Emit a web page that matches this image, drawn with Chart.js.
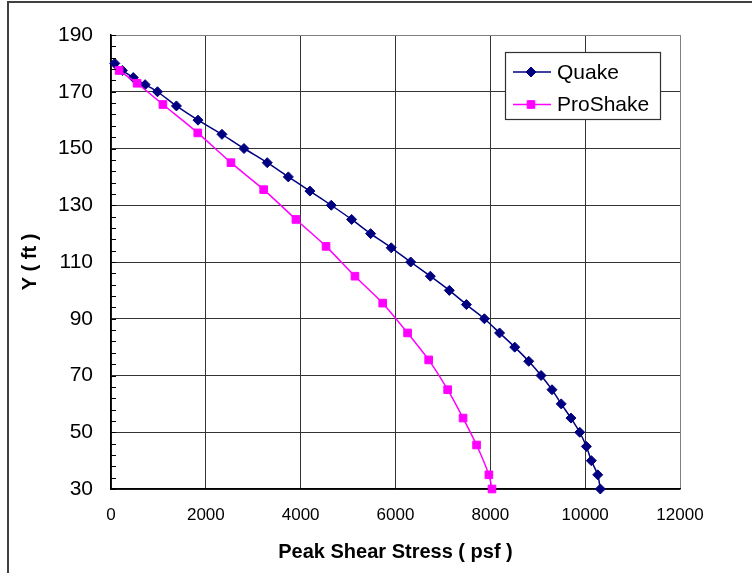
<!DOCTYPE html>
<html>
<head>
<meta charset="utf-8">
<script src="https://cdn.jsdelivr.net/npm/chart.js@4.4.1/dist/chart.umd.min.js"></script>
<style>
  html, body { margin: 0; padding: 0; background: #fff; }
  #wrap { position: relative; width: 752px; height: 573px; }
</style>
</head>
<body>
<div id="wrap"><canvas id="c" width="752" height="573"></canvas></div>
<script>
// ---- data ----
const quakeLabel = "Quake";
const quakeY = [180,177.5,175,172.5,170,165,160,155,150,145,140,135,130,125,120,115,110,105,100,95,90,85,80,75,70,65,60,55,50,45,40,35,30];
const quakeX = [80,240,470,720,980,1380,1835,2340,2805,3295,3740,4195,4645,5075,5475,5910,6320,6735,7135,7495,7875,8195,8515,8810,9070,9300,9495,9700,9885,10025,10130,10265,10320];

const proLabel = "ProShake";
const proY = [177.5,173,165.5,155.5,145,135.5,125,115.5,105,95.5,85,75.5,65,55,45.5,35,30];
const proX = [170,550,1095,1830,2530,3220,3900,4535,5145,5730,6255,6700,7100,7425,7710,7970,8035];

const xTicks = [0,2000,4000,6000,8000,10000,12000];
const yTicks = [30,50,70,90,110,130,150,170,190];
const xTitle = "Peak Shear Stress ( psf )";
const yTitle = "Y ( ft )";

const FONT = "'Liberation Sans', Arial, sans-serif";

function pts(xs, ys) { return xs.map((x, i) => ({ x: x, y: ys[i] })); }

const outerBorder = {
  id: 'outerBorder',
  beforeDraw(chart) {
    const ctx = chart.ctx;
    ctx.save();
    ctx.strokeStyle = '#404040';
    ctx.lineWidth = 2;
    ctx.beginPath();
    ctx.moveTo(8, 580);
    ctx.lineTo(8, 2);
    ctx.lineTo(760, 2);
    ctx.stroke();
    ctx.restore();
  }
};

const minorTicks = {
  id: 'minorTicks',
  afterDatasetsDraw(chart) {
    const ctx = chart.ctx;
    const ys = chart.scales.y;
    const left = chart.chartArea.left;
    ctx.save();
    ctx.strokeStyle = '#000';
    ctx.lineWidth = 1;
    for (let v = ys.min; v <= ys.max; v += 4) {
      const y = Math.round(ys.getPixelForValue(v)) + 0.5;
      ctx.beginPath();
      ctx.moveTo(left, y);
      ctx.lineTo(left + 5, y);
      ctx.stroke();
    }
    ctx.restore();
  }
};

const boxLegend = {
  id: 'boxLegend',
  afterDraw(chart) {
    const ctx = chart.ctx;
    const bx = 505.5, by = 52.5, bw = 155, bh = 67;
    ctx.save();
    ctx.fillStyle = '#fff';
    ctx.fillRect(bx, by, bw, bh);
    ctx.strokeStyle = '#303030';
    ctx.lineWidth = 1.2;
    ctx.strokeRect(bx, by, bw, bh);
    const rows = [72, 104.5];
    const order = [0, 1];
    order.forEach((di, i) => {
      const ds = chart.data.datasets[di];
      const y = rows[i];
      ctx.strokeStyle = ds.borderColor;
      ctx.lineWidth = ds.borderWidth;
      ctx.beginPath();
      ctx.moveTo(513, y);
      ctx.lineTo(551, y);
      ctx.stroke();
      ctx.fillStyle = ds.pointBackgroundColor;
      ctx.strokeStyle = ds.pointBorderColor;
      ctx.lineWidth = 1;
      Chart.helpers.drawPoint(ctx, { pointStyle: ds.pointStyle, rotation: 0, radius: ds.pointRadius, borderWidth: 1 }, 531, y);
      ctx.fillStyle = '#000';
      ctx.font = "21px " + FONT;
      ctx.textBaseline = 'middle';
      ctx.textAlign = 'left';
      ctx.fillText(ds.label, 557, y + 1);
    });
    ctx.restore();
  }
};

new Chart(document.getElementById('c'), {
  type: 'scatter',
  data: {
    datasets: [
      {
        label: quakeLabel,
        data: pts(quakeX, quakeY),
        showLine: true,
        borderColor: '#000080',
        backgroundColor: '#000080',
        borderWidth: 1.5,
        pointStyle: 'rectRot',
        pointRadius: 5,
        pointBackgroundColor: '#000080',
        pointBorderColor: '#000080',
        pointBorderWidth: 1,
        tension: 0.25,
        clip: false,
        order: 1
      },
      {
        label: proLabel,
        data: pts(proX, proY),
        showLine: true,
        borderColor: '#FF00FF',
        backgroundColor: '#FF00FF',
        borderWidth: 1.5,
        pointStyle: 'rect',
        pointRadius: 5.4,
        pointBackgroundColor: '#FF00FF',
        pointBorderColor: '#FF00FF',
        pointBorderWidth: 1,
        tension: 0.25,
        clip: false,
        order: 0
      }
    ]
  },
  options: {
    responsive: false,
    animation: false,
    devicePixelRatio: 1,
    layout: { padding: { top: 35, right: 72, bottom: 0, left: 0 } },
    plugins: {
      legend: { display: false },
      tooltip: { enabled: false },
      title: { display: false }
    },
    scales: {
      x: {
        type: 'linear',
        min: xTicks[0],
        max: xTicks[xTicks.length - 1],
        afterBuildTicks(s) { s.ticks = xTicks.map(v => ({ value: v })); },
        afterFit(s) { s.height = 84; },
        ticks: {
          color: '#000',
          padding: 16,
          maxRotation: 0,
          font: { family: FONT, size: 17 },
          callback: v => String(v)
        },
        grid: {
          drawTicks: false,
          color: ctx => (ctx.tick && ctx.tick.value === xTicks[xTicks.length - 1]) ? '#808080' : '#333333',
          lineWidth: 1
        },
        border: { display: true, color: '#000', width: 1.5 },
        title: {
          display: true,
          text: xTitle,
          color: '#000',
          font: { family: FONT, size: 20, weight: 'bold' },
          padding: { top: 0, bottom: 9 }
        }
      },
      y: {
        type: 'linear',
        min: yTicks[0],
        max: yTicks[yTicks.length - 1],
        afterBuildTicks(s) { s.ticks = yTicks.map(v => ({ value: v })); },
        afterFit(s) { s.width = 111; },
        ticks: {
          color: '#000',
          padding: 18,
          font: { family: FONT, size: 21 },
          callback: v => String(v)
        },
        grid: {
          drawTicks: false,
          color: ctx => (ctx.tick && ctx.tick.value === yTicks[yTicks.length - 1]) ? '#808080' : '#333333',
          lineWidth: 1
        },
        border: { display: true, color: '#000', width: 1.5 },
        title: {
          display: true,
          text: yTitle,
          color: '#000',
          font: { family: FONT, size: 20, weight: 'bold' },
          padding: { top: 18, bottom: 0 }
        }
      }
    }
  },
  plugins: [outerBorder, minorTicks, boxLegend]
});
</script>
</body>
</html>
